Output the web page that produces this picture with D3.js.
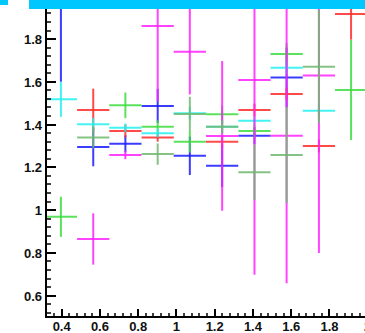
<!DOCTYPE html>
<html><head><meta charset="utf-8">
<script src="https://cdn.jsdelivr.net/npm/d3@7"></script>
<style>body{margin:0;background:#fff;overflow:hidden}svg{display:block}</style>
</head><body>
<svg id="c" width="365" height="333"></svg>
<script>
const binCenters = [0.396,0.565,0.733,0.902,1.070,1.239,1.408,1.576,1.745,1.913];
const binHalfWidth = 0.0843;

const blueVal    = [2.2, 1.295, 1.31, 1.487, 1.254, 1.208, 1.348, 1.62, null, null];
const blueErr    = [0.6, 0.09, 0.04, 0.08, 0.09, 0.1, 0.04, 0.14, null, null];
const redVal     = [null, 1.468, 1.37, 1.34, null, 1.32, 1.468, 1.543, 1.30, 1.917];
const redErr     = [null, 0.10, 0.03, 0.02, null, 0.03, 0.03, 0.03, 0.03, 0.12];
const greenVal   = [0.969, null, 1.49, 1.39, 1.32, 1.448, 1.37, 1.73, null, 1.562];
const greenErr   = [0.094, null, 0.06, 0.03, 0.05, 0.04, 0.03, 0.05, null, 0.234];
const cyanVal    = [1.518, 1.401, 1.385, 1.36, 1.453, 1.39, 1.418, 1.666, 1.465, null];
const cyanErr    = [0.082, 0.03, 0.02, 0.02, 0.03, 0.03, 0.02, 0.03, 0.03, null];
const magentaVal = [null, 0.865, 1.258, 1.861, 1.741, 1.347, 1.608, 1.348, 1.629, null];
const magentaErr = [null, 0.12, 0.02, 0.35, 0.2, 0.35, 0.91, 0.69, 0.83, null];
const oliveVal   = [null, 1.34, null, 1.262, 1.45, 1.39, 1.177, 1.258, 1.671, null];
const oliveErr   = [null, 0.05, null, 0.05, 0.08, 0.03, 0.13, 0.225, 0.265, null];

const xTickValues = [0.4,0.6,0.8,1.0,1.2,1.4,1.6,1.8,2.0];
const xTickLabels = ["0.4","0.6","0.8","1","1.2","1.4","1.6","1.8","2"];
const yTickValues = [0.6,0.8,1.0,1.2,1.4,1.6,1.8];
const yTickLabels = ["0.6","0.8","1","1.2","1.4","1.6","1.8"];

const series = [
  {name:"blue", color:"#1a1aff", val:blueVal, err:blueErr},
  {name:"green", color:"#3fdc3f", val:greenVal, err:greenErr},
  {name:"red", color:"#ff2a2a", val:redVal, err:redErr},
  {name:"cyan", color:"#22f0f0", val:cyanVal, err:cyanErr},
  {name:"magenta", color:"#ff22ff", val:magentaVal, err:magentaErr},
  {name:"olive", color:"#6fb86f", val:oliveVal, err:oliveErr}
];

const svg = d3.select("#c");
const x = d3.scaleLinear().domain([0.318, 2.0]).range([46, 367.7]);
const y = d3.scaleLinear().domain([0.5, 2.0]).range([317, -3.7]);

svg.append("clipPath").attr("id","clip").append("rect").attr("x",46).attr("y",0).attr("width",319).attr("height",317);
const plot = svg.append("g").attr("clip-path","url(#clip)");

series.forEach(s => {
  const g = plot.append("g").attr("stroke", s.color).attr("stroke-width", 2).attr("stroke-opacity", 0.85);
  const pts = binCenters.map((c,i)=>({c, v:s.val[i], e:s.err[i]})).filter(d=>d.v!==null);
  g.selectAll("line.h").data(pts).enter().append("line").attr("class","h")
    .attr("x1", d=>x(d.c-binHalfWidth)).attr("x2", d=>x(d.c+binHalfWidth))
    .attr("y1", d=>y(d.v)).attr("y2", d=>y(d.v));
  g.selectAll("line.v").data(pts).enter().append("line").attr("class","v")
    .attr("x1", d=>x(d.c)).attr("x2", d=>x(d.c))
    .attr("y1", d=>y(d.v-d.e)).attr("y2", d=>y(d.v+d.e));
});

// axes
const yMinor = d3.range(0.52, 2.0, 0.04);
const xMinor = d3.range(0.32, 2.0, 0.04);
const ax = svg.append("g").attr("stroke","#000");
ax.append("line").attr("x1",46).attr("x2",46).attr("y1",0).attr("y2",317).attr("stroke-width",2);
ax.append("line").attr("x1",45).attr("x2",365).attr("y1",317).attr("y2",317).attr("stroke-width",2);
ax.selectAll("line.ym").data(yMinor).enter().append("line")
  .attr("x1",46).attr("x2",51).attr("y1",d=>Math.round(y(d))).attr("y2",d=>Math.round(y(d))).attr("stroke-width",1.5);
ax.selectAll("line.yM").data(yTickValues).enter().append("line")
  .attr("x1",46).attr("x2",56).attr("y1",d=>Math.round(y(d))).attr("y2",d=>Math.round(y(d))).attr("stroke-width",2);
ax.selectAll("line.xm").data(xMinor).enter().append("line")
  .attr("x1",d=>Math.round(x(d))).attr("x2",d=>Math.round(x(d))).attr("y1",317).attr("y2",313).attr("stroke-width",1.5);
ax.selectAll("line.xM").data(xTickValues).enter().append("line")
  .attr("x1",d=>Math.round(x(d))).attr("x2",d=>Math.round(x(d))).attr("y1",317).attr("y2",309).attr("stroke-width",2);

const lab = svg.append("g").attr("font-family","'Liberation Sans', Arial, sans-serif").attr("font-size",13).attr("font-weight","bold").attr("fill","#111");
lab.selectAll("text.y").data(yTickValues).enter().append("text")
  .attr("x",42).attr("y",d=>y(d)+5).attr("text-anchor","end").text((d,i)=>yTickLabels[i]);
lab.selectAll("text.x").data(xTickValues).enter().append("text")
  .attr("x",d=>x(d)).attr("y",331).attr("text-anchor","middle").text((d,i)=>xTickLabels[i]);

// title box (cyan) at top
svg.append("rect").attr("x",29).attr("y",0).attr("width",336).attr("height",9).attr("fill","#00c8ff");
svg.append("rect").attr("x",0).attr("y",0).attr("width",8).attr("height",5).attr("fill","#00c8ff");
</script>
</body></html>
